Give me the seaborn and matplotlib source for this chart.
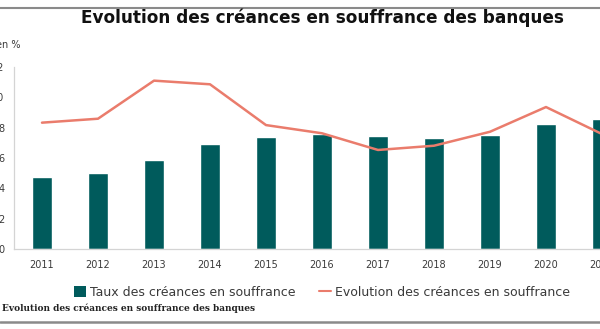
import matplotlib
matplotlib.use("Agg")
import matplotlib.pyplot as plt
from matplotlib.lines import Line2D
from matplotlib.patches import Patch
import numpy as np
import pandas as pd
import seaborn as sns

years = ["2011", "2012", "2013", "2014", "2015", "2016",
         "2017", "2018", "2019", "2020", "2021"]
taux = [4.73, 4.99, 5.89, 6.90, 7.36, 7.58, 7.47, 7.30, 7.50, 8.22, 8.55]
evolution = [8.33, 8.59, 11.10, 10.86, 8.17, 7.63, 6.53, 6.81, 7.73, 9.36, 7.58]
y_ticks = [0, 2, 4, 6, 8, 10, 12]

bar_color = "#005b5c"
line_color = "#ea7c6c"
axis_color = "#d4d4d4"
text_color = "#3a3a3a"

sns.set_theme(style="white")
plt.rcParams["font.family"] = ["DejaVu Sans"]

df = pd.DataFrame({"annee": years, "taux": taux,
                   "pos": np.arange(len(years)), "evolution": evolution})

fig = plt.figure(figsize=(6.0, 3.29), dpi=100)
ax = fig.add_axes([14 / 600, 80 / 329, 616 / 600, 182 / 329])

sns.barplot(data=df, x="annee", y="taux", color=bar_color, width=0.34,
            saturation=1, ax=ax)
sns.lineplot(data=df, x="pos", y="evolution", color=line_color, linewidth=1.8,
             ax=ax)

ax.set_xlim(-0.5, len(years) - 0.5)
ax.set_ylim(0, 12)
ax.set_yticks(y_ticks)
ax.set_yticklabels([str(t) for t in y_ticks], fontsize=7, color=text_color)
ax.set_xticks(np.arange(len(years)))
ax.set_xticklabels(years, fontsize=7, color=text_color)
ax.set_xlabel("")
ax.set_ylabel("")

# category boundary ticks on the x axis
ax.set_xticks(np.arange(len(years) + 1) - 0.5, minor=True)
ax.tick_params(axis="x", which="major", length=0, pad=8)
ax.tick_params(axis="x", which="minor", length=4, color=axis_color, width=0.8,
               direction="out")
ax.tick_params(axis="y", length=3, color=axis_color, width=0.8, pad=4,
               direction="out")

for side in ["top", "right"]:
    ax.spines[side].set_visible(False)
for side in ["left", "bottom"]:
    ax.spines[side].set_color(axis_color)
    ax.spines[side].set_linewidth(0.9)

# header rule and title
fig.add_artist(Line2D([0, 1], [1 - 8 / 329, 1 - 8 / 329],
                      color="#8a8a8a", linewidth=1.5))
fig.text(322 / 600, 1 - 18 / 329,
         "Evolution des créances en souffrance des banques",
         ha="center", va="center", fontsize=12.2, fontweight="bold",
         color="#111111")

fig.text(-4 / 600, 1 - 45 / 329, "en %", ha="left", va="center",
         fontsize=7, color=text_color)

handles = [Patch(facecolor=bar_color, edgecolor="none"),
           Line2D([0], [0], color=line_color, linewidth=1.5)]
labels = ["Taux des créances en souffrance",
          "Evolution des créances en souffrance"]
fig.legend(handles, labels, loc="center", bbox_to_anchor=(322 / 600, 1 - 292 / 329),
           ncol=2, frameon=False, fontsize=9.0, handlelength=0.95,
           handleheight=0.95, handletextpad=0.3, columnspacing=1.9,
           labelcolor=text_color)

# caption and footer rule
fig.text(2 / 600, 1 - 308 / 329,
         "Evolution des créances en souffrance des banques",
         ha="left", va="center", fontsize=6.5, fontweight="bold",
         family="DejaVu Serif", color="#222222")
fig.add_artist(Line2D([0, 1], [1 - 322 / 329, 1 - 322 / 329],
                      color="#8a8a8a", linewidth=1.8))

fig.savefig("out.png", dpi=100)
